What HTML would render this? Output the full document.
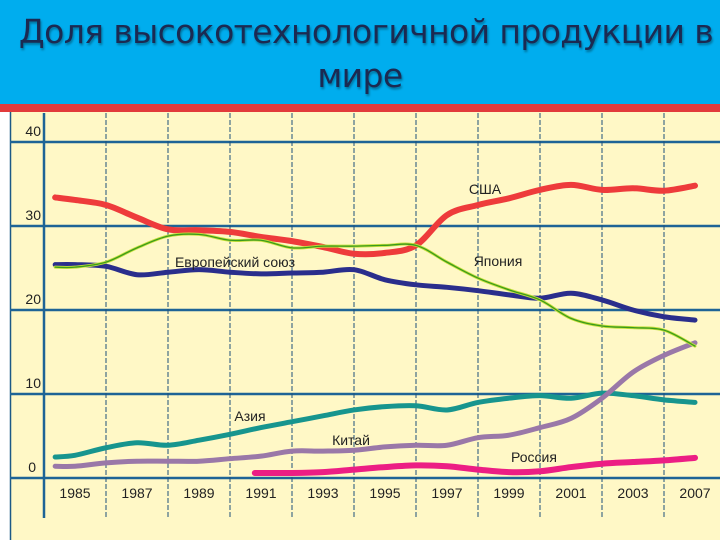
<!DOCTYPE html>
<html><head><meta charset="utf-8">
<style>
body{margin:0;width:720px;height:540px;overflow:hidden;background:#fff;}
#hdr{position:absolute;left:0;top:0;width:720px;height:104px;background:#00adee;}
#hdr div{position:absolute;width:720px;text-align:center;font-family:"DejaVu Sans","Liberation Sans",sans-serif;font-size:33px;color:#1b2a52;text-shadow:1px 2px 2px rgba(0,0,0,0.35);letter-spacing:-0.6px;white-space:nowrap}
svg{position:absolute;left:0;top:0}
</style></head><body>
<div id="hdr">
<div style="top:12px;left:6px">Доля высокотехнологичной продукции в</div>
<div style="top:56px">мире</div>
</div>
<svg id="c" width="720" height="540"></svg>
<script>
const yTicks=[0,10,20,30,40];
const xLabels=["1985","1987","1989","1991","1993","1995","1997","1999","2001","2003","2007"];
// values sampled every half column (pos 0..10 step 0.5)
const usa=[33.1,32.5,31,29.6,29.5,29.3,28.7,28.2,27.5,26.7,26.8,27.7,31.3,32.5,33.3,34.3,34.9,34.3,34.5,34.2,34.8];
const japan=[25.1,25.7,27.4,28.8,29,28.3,28.3,27.4,27.6,27.6,27.7,27.7,25.7,23.8,22.4,21.2,19,18.1,17.9,17.6,15.7];
const eu=[25.4,25.2,24.2,24.5,24.8,24.5,24.3,24.4,24.5,24.8,23.6,23,22.7,22.3,21.8,21.4,22,21.2,20,19.2,18.8];
const asia=[2.7,3.6,4.2,3.9,4.5,5.2,6,6.7,7.4,8.1,8.5,8.6,8.1,9,9.5,9.8,9.5,10.1,9.8,9.3,9];
const china=[1.4,1.8,2,2,2,2.3,2.6,3.2,3.2,3.3,3.7,3.9,3.9,4.8,5.1,6,7.1,9.5,12.6,14.6,16.1];
const russia=[null,null,null,null,null,null,null,0.6,0.7,1,1.3,1.5,1.4,1,0.7,0.8,1.3,1.7,1.9,2.1,2.4];
const NS='http://www.w3.org/2000/svg';
const svg=document.getElementById('c');
const X=p=>75+p*62, Y=v=>478-v*8.4;
function el(t,a,p){const e=document.createElementNS(NS,t);for(const k in a)e.setAttribute(k,a[k]);(p||svg).appendChild(e);return e;}
let r=el('rect',{x:0,y:104,width:720,height:8,fill:'#e23b3b'});


let bg=el('rect',{x:10,y:112,width:710,height:428,fill:'#fff8c6'});


el('line',{x1:10.5,y1:112,x2:10.5,y2:540,stroke:'#1c5a86','stroke-width':1.5});
yTicks.forEach(v=>{
 let l=el('line',{x1:10,x2:720,y1:Y(v),y2:Y(v),stroke:'#1e6496','stroke-width':2.5});
 
 
 let t=el('text',{x:v===0?36:41,y:Y(v)-6,'text-anchor':'end','font-family':'Liberation Sans,sans-serif','font-size':14,fill:'#222'});
 t.textContent=v;
 
 
});
let ax=el('line',{x1:44,x2:44,y1:113,y2:518,stroke:'#1e6496','stroke-width':2.5});


for(let i=0;i<10;i++){
 const x=X(i+0.5);
 let l=el('line',{x1:x,x2:x,y1:113,y2:518,stroke:'#1e4f7a','stroke-width':1,'stroke-dasharray':'5,2'});
 
 
}
xLabels.forEach((s,i)=>{
 let t=el('text',{x:X(i),y:498,'text-anchor':'middle','font-family':'Liberation Sans,sans-serif','font-size':14,fill:'#222'});
 t.textContent=s;
 
 
});
function path(arr,start,startV){
 let pts=[];
 if(start!=null)pts.push([X(start),Y(startV)]);
 arr.forEach((v,i)=>{if(v!=null)pts.push([X(i*0.5),Y(v)]);});
 let d='M'+pts[0][0]+','+pts[0][1];
 for(let i=0;i<pts.length-1;i++){
  const p0=pts[Math.max(0,i-1)],p1=pts[i],p2=pts[i+1],p3=pts[Math.min(pts.length-1,i+2)];
  const c1=[p1[0]+(p2[0]-p0[0])/6,p1[1]+(p2[1]-p0[1])/6],c2=[p2[0]-(p3[0]-p1[0])/6,p2[1]-(p3[1]-p1[1])/6];
  d+=`C${c1[0]},${c1[1]} ${c2[0]},${c2[1]} ${p2[0]},${p2[1]}`;
 }
 return d;
}
function series(arr,color,w,name,startV,startPos){
 let p=el('path',{d:path(arr,startPos==null?-0.32:startPos,startV),fill:'none',stroke:color,'stroke-width':w,'stroke-linecap':'round','stroke-linejoin':'round'});
 
 
}
series(asia,'#17958e',5,'line-asia',asia[0]-0.2);
series(china,'#9a78a8',5,'line-china',china[0]);
series(russia,'#ec1e84',6,'line-russia',0.6,2.9);
series(eu,'#2a2e8c',5,'line-eu',eu[0]);
series(usa,'#ee3b3b',6,'line-usa',33.4);
series(japan,'#c6e03a',3,'line-japan-halo',japan[0]);
series(japan,'#3a9a1c',1.3,'line-japan',japan[0]);
const labels=[["США",485,194,"label-usa"],["Япония",498,266,"label-japan"],["Европейский союз",235,267,"label-eu"],["Азия",250,421,"label-asia"],["Китай",351,445,"label-china"],["Россия",534,462,"label-russia"]];
labels.forEach(a=>{
 let t=el('text',{x:a[1],y:a[2],'text-anchor':'middle','font-family':'Liberation Sans,sans-serif','font-size':14,fill:'#222'});
 t.textContent=a[0];
 
 
});
</script>
</body></html>
